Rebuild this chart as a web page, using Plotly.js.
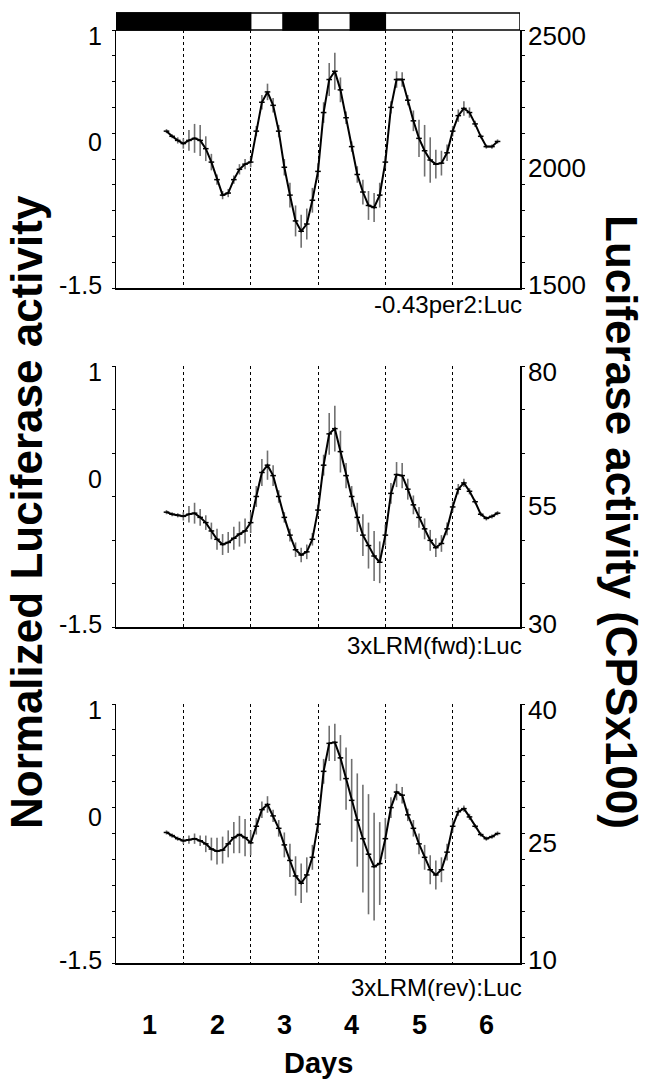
<!DOCTYPE html>
<html>
<head>
<meta charset="utf-8">
<script src="https://cdn.plot.ly/plotly-3.0.1.min.js"></script>
<style>html,body{margin:0;padding:0;background:#fff;}#chart{width:650px;height:1083px;}</style>
</head>
<body>
<div id="chart"></div>
<script>
// ---- data ----
const hours = [18,20,22,24,26,28,30,32,34,36,38,40,42,44,46,48,50,52,54,56,58,60,62,64,66,68,70,72,74,76,78,80,82,84,86,88,90,92,94,96,98,100,102,104,106,108,110,112,114,116,118,120,122,124,126,128,130,132,134,136];

const per2Mean = [0.02,-0.03,-0.07,-0.10,-0.07,-0.05,-0.07,-0.15,-0.28,-0.45,-0.60,-0.58,-0.45,-0.35,-0.30,-0.28,0.02,0.30,0.40,0.27,0.02,-0.33,-0.60,-0.85,-0.95,-0.88,-0.65,-0.37,0.20,0.52,0.60,0.42,0.15,-0.13,-0.40,-0.57,-0.70,-0.72,-0.60,-0.28,0.25,0.52,0.52,0.32,0.12,-0.05,-0.17,-0.26,-0.30,-0.29,-0.19,0.02,0.17,0.24,0.20,0.09,-0.03,-0.13,-0.13,-0.08];
const per2Err = [0.02,0.02,0.03,0.05,0.10,0.14,0.15,0.12,0.08,0.05,0.04,0.04,0.04,0.05,0.05,0.05,0.05,0.07,0.08,0.07,0.06,0.08,0.12,0.15,0.16,0.15,0.12,0.08,0.10,0.16,0.18,0.12,0.06,0.05,0.08,0.12,0.14,0.14,0.12,0.06,0.06,0.08,0.07,0.05,0.10,0.18,0.25,0.22,0.14,0.12,0.08,0.05,0.06,0.07,0.05,0.03,0.02,0.02,0.02,0.02];

const fwdMean = [-0.40,-0.42,-0.43,-0.44,-0.42,-0.41,-0.45,-0.50,-0.58,-0.66,-0.71,-0.69,-0.65,-0.61,-0.58,-0.50,-0.25,-0.02,0.05,-0.05,-0.25,-0.45,-0.62,-0.76,-0.81,-0.78,-0.66,-0.38,0.05,0.35,0.40,0.18,-0.05,-0.25,-0.45,-0.62,-0.72,-0.82,-0.88,-0.62,-0.22,-0.04,-0.05,-0.18,-0.33,-0.45,-0.56,-0.67,-0.74,-0.70,-0.56,-0.35,-0.18,-0.12,-0.20,-0.30,-0.42,-0.46,-0.44,-0.41];
const fwdErr = [0.02,0.02,0.02,0.04,0.08,0.10,0.08,0.07,0.08,0.10,0.10,0.10,0.11,0.12,0.12,0.10,0.10,0.13,0.14,0.10,0.06,0.05,0.06,0.07,0.07,0.07,0.06,0.05,0.10,0.20,0.22,0.20,0.12,0.10,0.14,0.20,0.22,0.24,0.20,0.10,0.10,0.12,0.12,0.10,0.09,0.10,0.10,0.10,0.09,0.08,0.06,0.05,0.05,0.04,0.03,0.02,0.02,0.02,0.02,0.02];

const revMean = [-0.24,-0.27,-0.30,-0.32,-0.31,-0.30,-0.32,-0.35,-0.40,-0.42,-0.41,-0.35,-0.29,-0.26,-0.29,-0.34,-0.18,-0.02,0.03,-0.08,-0.20,-0.36,-0.51,-0.66,-0.73,-0.65,-0.48,-0.16,0.35,0.62,0.63,0.48,0.28,0.07,-0.12,-0.30,-0.45,-0.57,-0.54,-0.30,0.00,0.15,0.12,-0.07,-0.20,-0.35,-0.48,-0.60,-0.65,-0.60,-0.43,-0.18,-0.04,-0.01,-0.09,-0.18,-0.26,-0.30,-0.28,-0.25];
const revErr = [0.02,0.02,0.02,0.03,0.04,0.05,0.05,0.08,0.11,0.13,0.13,0.13,0.15,0.18,0.18,0.12,0.08,0.08,0.08,0.06,0.08,0.12,0.16,0.19,0.19,0.17,0.12,0.08,0.12,0.17,0.18,0.22,0.30,0.40,0.45,0.52,0.58,0.52,0.40,0.20,0.10,0.08,0.08,0.06,0.08,0.10,0.12,0.14,0.14,0.12,0.08,0.06,0.04,0.03,0.03,0.02,0.02,0.02,0.02,0.02];

const panelNames = ["-0.43per2:Luc", "3xLRM(fwd):Luc", "3xLRM(rev):Luc"];
const leftTickText = ["1", "0", "-1.5"];
const leftTickVals = [1, 0, -1.5];
const rightTickText = [["2500","2000","1500"], ["80","55","30"], ["40","25","10"]];
const rightRanges = [[1500,2500], [30,80], [10,40]];
const dayLabels = ["1","2","3","4","5","6"];
const dayPos = [0.5,1.5,2.5,3.5,4.5,5.5];
const darkStart = [0, 2.48, 3.48];
const darkEnd = [2, 3, 4];
const dayLines = [1,2,3,4,5];

// ---- layout helpers ----
const W = 650, H = 1083;
const xDom = [116/W, 520/W];
const panelPx = [[30,288],[366,627],[704,963]];
const yDoms = panelPx.map(p => [1 - p[1]/H, 1 - p[0]/H]);
const FONT = "Liberation Sans, Arial, Helvetica, sans-serif";

const days = hours.map(h => h/24);
const means = [per2Mean, fwdMean, revMean];
const errs = [per2Err, fwdErr, revErr];

const data = [];
const layout = {
  width: W, height: H,
  margin: {l:0, r:0, t:0, b:0},
  paper_bgcolor: '#fff', plot_bgcolor: 'rgba(0,0,0,0)',
  showlegend: false,
  font: {family: FONT, color: '#000', size: 24},
  shapes: [], annotations: []
};

const leftDticks = [0.25, 2.5/6, 0.25];
const rightDticks = [100, 50/6, 3];
const midShift = [-6, -9, 3];
const nameShift = [-16, -18, -24];

for (let i = 0; i < 3; i++) {
  const xa = i === 0 ? 'x' : 'x' + (i+1);
  const ya = i === 0 ? 'y' : 'y' + (i+1);
  const yr = 'y' + (i+4);
  const xKey = i === 0 ? 'xaxis' : 'xaxis' + (i+1);
  const yKey = i === 0 ? 'yaxis' : 'yaxis' + (i+1);
  const yrKey = 'yaxis' + (i+4);

  data.push({
    x: days, y: means[i], xaxis: xa, yaxis: ya, type: 'scatter', mode: 'lines+markers',
    line: {color: '#000', width: 2},
    marker: {symbol: 'line-ew', size: 4, line: {color: '#000', width: 1.5}},
    error_y: {type: 'data', array: errs[i], visible: true, color: '#707070', thickness: 1.6, width: 0}
  });
  data.push({x: [], y: [], xaxis: xa, yaxis: yr, type: 'scatter', mode: 'lines', hoverinfo: 'skip'});

  layout[xKey] = {
    domain: xDom, range: [0, 6], anchor: ya,
    showline: true, linecolor: '#000', linewidth: 1.5,
    tickmode: 'array', tickvals: dayLines, ticks: '', showticklabels: false,
    showgrid: true, griddash: 'dot', gridcolor: '#000', gridwidth: 1,
    zeroline: false, fixedrange: true
  };
  layout[yKey] = {
    domain: yDoms[i], range: [-1.5, 1], anchor: xa,
    showline: true, linecolor: '#000', linewidth: 1.5,
    tickmode: 'linear', tick0: -1.5, dtick: leftDticks[i],
    ticks: 'outside', ticklen: 3, tickwidth: 1, tickcolor: '#000',
    showticklabels: false, showgrid: false, zeroline: false, fixedrange: true
  };
  layout[yrKey] = {
    domain: yDoms[i], range: rightRanges[i], anchor: xa, overlaying: ya, side: 'right',
    showline: true, linecolor: '#000', linewidth: 1.5,
    tickmode: 'linear', tick0: rightRanges[i][0], dtick: rightDticks[i],
    ticks: 'outside', ticklen: 3, tickwidth: 1, tickcolor: '#000',
    showticklabels: false, showgrid: false, zeroline: false, fixedrange: true
  };

  for (let k = 0; k < 3; k++) {
    layout.annotations.push({
      xref: 'paper', x: 104/W, xanchor: 'right', yref: ya, y: leftTickVals[k], yanchor: 'middle',
      yshift: midShift[k], text: leftTickText[k], showarrow: false,
      font: {family: FONT, size: 25, color: '#000'}
    });
    const rv = [rightRanges[i][1], (rightRanges[i][0]+rightRanges[i][1])/2, rightRanges[i][0]];
    layout.annotations.push({
      xref: 'paper', x: 526/W, xanchor: 'left', yref: yr, y: rv[k], yanchor: 'middle',
      yshift: midShift[k], text: rightTickText[i][k], showarrow: false,
      font: {family: FONT, size: 26, color: '#000'}
    });
  }
  layout.annotations.push({
    xref: 'paper', x: 524/W, xanchor: 'right', yref: 'paper', y: yDoms[i][0], yanchor: 'middle',
    yshift: nameShift[i], text: panelNames[i], showarrow: false,
    font: {family: FONT, size: 24, color: '#000'}
  });
}

// light/dark bar above top panel
const barTop = 1 - 13/H, barBot = yDoms[0][1];
layout.shapes.push({type: 'rect', xref: 'x', yref: 'paper', x0: 0, x1: 6, y0: barBot, y1: barTop,
  fillcolor: '#fff', line: {color: '#000', width: 1.5}, layer: 'above'});
for (let j = 0; j < darkStart.length; j++) {
  layout.shapes.push({type: 'rect', xref: 'x', yref: 'paper', x0: darkStart[j], x1: darkEnd[j],
    y0: barBot, y1: barTop, fillcolor: '#000', line: {color: '#000', width: 1.5}, layer: 'above'});
}

for (let d = 0; d < dayLabels.length; d++) {
  layout.annotations.push({
    xref: 'x3', x: dayPos[d], xanchor: 'center', yref: 'paper', y: yDoms[2][0], yanchor: 'middle',
    yshift: -62, text: '<b>' + dayLabels[d] + '</b>', showarrow: false,
    font: {family: FONT, size: 27, color: '#000'}
  });
}
layout.annotations.push({
  xref: 'x3', x: 3, xanchor: 'center', yref: 'paper', y: yDoms[2][0], yanchor: 'middle',
  yshift: -100, text: '<b>Days</b>', showarrow: false,
  font: {family: FONT, size: 29, color: '#000'}
});
layout.annotations.push({
  xref: 'paper', x: 27/W, xanchor: 'center', yref: 'paper', y: 1 - 512/H, yanchor: 'middle',
  text: '<b>Normalized Luciferase activity</b>', textangle: -90, showarrow: false,
  font: {family: FONT, size: 44, color: '#000'}
});
layout.annotations.push({
  xref: 'paper', x: 622/W, xanchor: 'center', yref: 'paper', y: 1 - 522/H, yanchor: 'middle',
  text: '<b>Luciferase activity (CPSx100)</b>', textangle: 90, showarrow: false,
  font: {family: FONT, size: 44, color: '#000'}
});

Plotly.newPlot('chart', data, layout, {staticPlot: true, displayModeBar: false});
</script>
</body>
</html>
